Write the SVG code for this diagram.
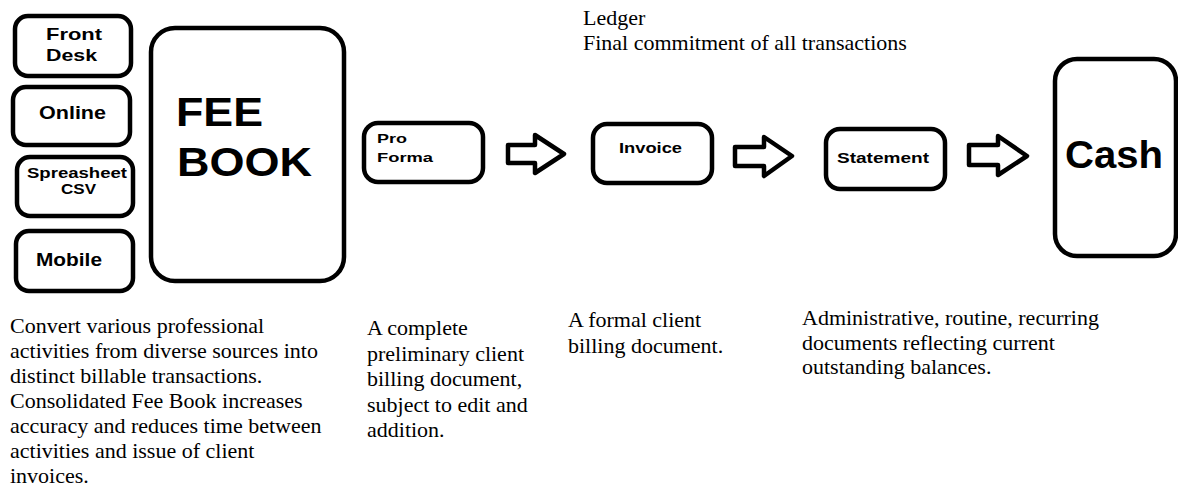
<svg xmlns="http://www.w3.org/2000/svg" width="1178" height="488" viewBox="0 0 1178 488">
<style>
.box{fill:#fff;stroke:#000;stroke-width:4.5;}
.lbl{font-family:"Liberation Sans",Arial,sans-serif;font-weight:bold;fill:#000;}
.desc{font-family:"Liberation Serif","Times New Roman",serif;font-size:22px;fill:#000;}
.arr{fill:#fff;stroke:#000;stroke-width:4.5;stroke-linejoin:round;}
</style>
<rect width="1178" height="488" fill="#fff"/>
<g id="front-desk">
<rect class="box" x="15" y="16" width="116" height="60" rx="13"/>
<text class="lbl" font-size="16.5" x="46" y="40" textLength="56" lengthAdjust="spacingAndGlyphs">Front</text>
<text class="lbl" font-size="16.5" x="46" y="61" textLength="51" lengthAdjust="spacingAndGlyphs">Desk</text>
</g>
<g id="online">
<rect class="box" x="13" y="87" width="117" height="58" rx="13"/>
<text class="lbl" font-size="17.5" x="39" y="119" textLength="67" lengthAdjust="spacingAndGlyphs">Online</text>
</g>
<g id="spreadsheet">
<rect class="box" x="17" y="157" width="116" height="59" rx="13"/>
<text class="lbl" font-size="15" x="27" y="178" textLength="100" lengthAdjust="spacingAndGlyphs">Spreasheet</text>
<text class="lbl" font-size="15" x="61" y="194" textLength="35" lengthAdjust="spacingAndGlyphs">CSV</text>
</g>
<g id="mobile">
<rect class="box" x="16" y="231" width="117" height="60" rx="13"/>
<text class="lbl" font-size="17.5" x="36" y="266" textLength="66" lengthAdjust="spacingAndGlyphs">Mobile</text>
</g>
<g id="fee-book">
<rect class="box" x="151" y="28" width="193" height="253" rx="24"/>
<text class="lbl" font-size="41" x="176" y="126" textLength="87" lengthAdjust="spacingAndGlyphs">FEE</text>
<text class="lbl" font-size="41" x="177" y="176" textLength="135" lengthAdjust="spacingAndGlyphs">BOOK</text>
</g>
<g id="pro-forma">
<rect class="box" x="364" y="123" width="119" height="59" rx="14"/>
<text class="lbl" font-size="13.5" x="377" y="143" textLength="30" lengthAdjust="spacingAndGlyphs">Pro</text>
<text class="lbl" font-size="13.5" x="377" y="162" textLength="56" lengthAdjust="spacingAndGlyphs">Forma</text>
</g>
<g id="invoice">
<rect class="box" x="593" y="124" width="119" height="59" rx="14"/>
<text class="lbl" font-size="15" x="619" y="153" textLength="63" lengthAdjust="spacingAndGlyphs">Invoice</text>
</g>
<g id="statement">
<rect class="box" x="826" y="129" width="119" height="60" rx="14"/>
<text class="lbl" font-size="15" x="837" y="163" textLength="92" lengthAdjust="spacingAndGlyphs">Statement</text>
</g>
<g id="cash">
<rect class="box" x="1055" y="59" width="121" height="197" rx="22"/>
<text class="lbl" font-size="38" x="1065" y="168" textLength="98" lengthAdjust="spacingAndGlyphs">Cash</text>
</g>
<g id="connectors">
<path class="arr" d="M508,145 H535 V135 L564,154 L535,173 V163 H508 Z"/>
<path class="arr" d="M735,147 H764 V137 L792,156 L764,176 V166 H735 Z"/>
<path class="arr" d="M969,145 H998 V136 L1027,156 L998,175 V165 H969 Z"/>
</g>
<g id="ledger">
<text class="desc" x="583" y="25">Ledger</text>
<text class="desc" x="583" y="50">Final commitment of all transactions</text>
</g>
<g id="desc-feebook">
<text class="desc" x="10" y="333">Convert various professional</text>
<text class="desc" x="10" y="358">activities from diverse sources into</text>
<text class="desc" x="10" y="383">distinct billable transactions.</text>
<text class="desc" x="10" y="408">Consolidated Fee Book increases</text>
<text class="desc" x="10" y="433">accuracy and reduces time between</text>
<text class="desc" x="10" y="458">activities and issue of client</text>
<text class="desc" x="10" y="483">invoices.</text>
</g>
<g id="desc-proforma">
<text class="desc" x="367" y="335">A complete</text>
<text class="desc" x="367" y="360.5">preliminary client</text>
<text class="desc" x="367" y="386">billing document,</text>
<text class="desc" x="367" y="411.5">subject to edit and</text>
<text class="desc" x="367" y="437">addition.</text>
</g>
<g id="desc-invoice">
<text class="desc" x="568" y="327">A formal client</text>
<text class="desc" x="568" y="352.5">billing document.</text>
</g>
<g id="desc-statement">
<text class="desc" x="802" y="325">Administrative, routine, recurring</text>
<text class="desc" x="802" y="349.5">documents reflecting current</text>
<text class="desc" x="802" y="374">outstanding balances.</text>
</g>
</svg>
